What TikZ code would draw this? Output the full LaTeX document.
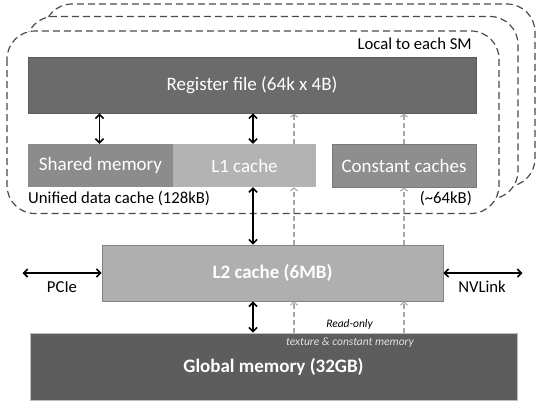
\documentclass[tikz,border=0pt]{standalone}
\usepackage{fontspec}
\setmainfont{Carlito}
\usetikzlibrary{arrows.meta}
\definecolor{regc}{HTML}{6B6B6B}
\definecolor{shc}{HTML}{8C8C8C}
\definecolor{l1c}{HTML}{B3B3B3}
\definecolor{cstc}{HTML}{8E8E8E}
\definecolor{l2c}{HTML}{AFAFAF}
\definecolor{glc}{HTML}{5D5D5D}
\definecolor{smline}{HTML}{4A4A4A}
\definecolor{roc}{HTML}{A8A8A8}
\tikzset{
  box/.style={inner sep=0pt, text=white, font=\fontsize{19bp}{22bp}\selectfont},
  lab/.style={inner sep=0pt, text=black, font=\fontsize{16.7bp}{19bp}\selectfont},
  small/.style={inner sep=0pt, font=\fontsize{11.5bp}{13bp}\selectfont\itshape},
  smbox/.style={draw=smline, fill=white, line width=1.2bp, dash pattern=on 7bp off 4bp, rounded corners=28bp},
  dbl/.style={{Straight Barb[length=4bp,width=8bp]}-{Straight Barb[length=4bp,width=8bp]}, line width=1.6bp, black},
  ro/.style={-{Straight Barb[length=3bp,width=7bp]}, draw=roc, line width=1.1bp, dash pattern=on 5bp off 3bp}
}
\begin{document}
\begin{tikzpicture}[x=1bp,y=-1bp]
\useasboundingbox (0,0) rectangle (542,406);
% stacked SM outlines
\draw[smbox] (44,4) rectangle (535,186.5);
\draw[smbox] (26,16.5) rectangle (518,199);
\draw[smbox] (7,31) rectangle (499,213.5);

% boxes
\node[box, fill=regc, draw=regc!85!black, line width=0.8bp, minimum width=448bp, minimum height=56bp] (reg) at (252,85) {Register file (64k x 4B)};
\node[box, fill=shc, minimum width=145bp, minimum height=43bp] (shm) at (100.5,165.5) {Shared memory};
\node[box, fill=l1c, minimum width=143bp, minimum height=43bp] (l1) at (244.5,165.5) {L1 cache};
\node[box, fill=cstc, draw=cstc!85!black, line width=0.8bp, minimum width=144bp, minimum height=43bp] (cst) at (404,165.5) {Constant caches};
\node[box, fill=l2c, draw=l2c!75!black, line width=0.8bp, minimum width=341bp, minimum height=56bp, font=\fontsize{19bp}{22bp}\selectfont\bfseries] (l2) at (272.5,273) {L2 cache (6MB)};
\node[box, fill=glc, draw=glc!40!white, line width=0.8bp, minimum width=487bp, minimum height=67bp, font=\fontsize{19bp}{22bp}\selectfont\bfseries] (glob) at (273.5,366.5) {Global memory (32GB)};

% labels
\node[lab, anchor=east] (local) at (472,44) {Local to each SM};
\node[lab, anchor=west] (unified) at (28,199) {Unified data cache (128kB)};
\node[lab, anchor=east] (k64) at (472,199) {(\textasciitilde64kB)};
\node[lab] (pcie) at (62,287) {PCIe};
\node[lab] (nvl) at (482,287) {NVLink};
\node[small, text=black] (readonly) at (349.5,324) {Read-only};
\node[small, text=white!88!black] (texmem) at (350,342) {texture \& constant memory};

% x positions of the connectors
\coordinate (xa) at (99.5,0);
\coordinate (xb) at (253,0);
\coordinate (xc) at (294,0);
\coordinate (xd) at (404,0);
\coordinate (pcieend) at (22.5,273);
\coordinate (nvend) at (522.5,273);

% black data paths
\draw[dbl] (reg.south -| xa) -- (shm.north -| xa);
\draw[dbl] (reg.south -| xb) -- (l1.north -| xb);
\draw[dbl] (l1.south -| xb) -- (l2.north -| xb);
\draw[dbl] (l2.south -| xb) -- (glob.north -| xb);
\draw[dbl] (pcieend) -- (l2.west);
\draw[dbl] (l2.east) -- (nvend);

% read-only paths
\draw[ro] (l1.north -| xc) -- (reg.south -| xc);
\draw[ro] (cst.north -| xd) -- (reg.south -| xd);
\draw[ro] (l2.north -| xc) -- (l1.south -| xc);
\draw[ro] (l2.north -| xd) -- (cst.south -| xd);
\draw[ro] (glob.north -| xc) -- (l2.south -| xc);
\draw[ro] (glob.north -| xd) -- (l2.south -| xd);
\end{tikzpicture}
\end{document}
